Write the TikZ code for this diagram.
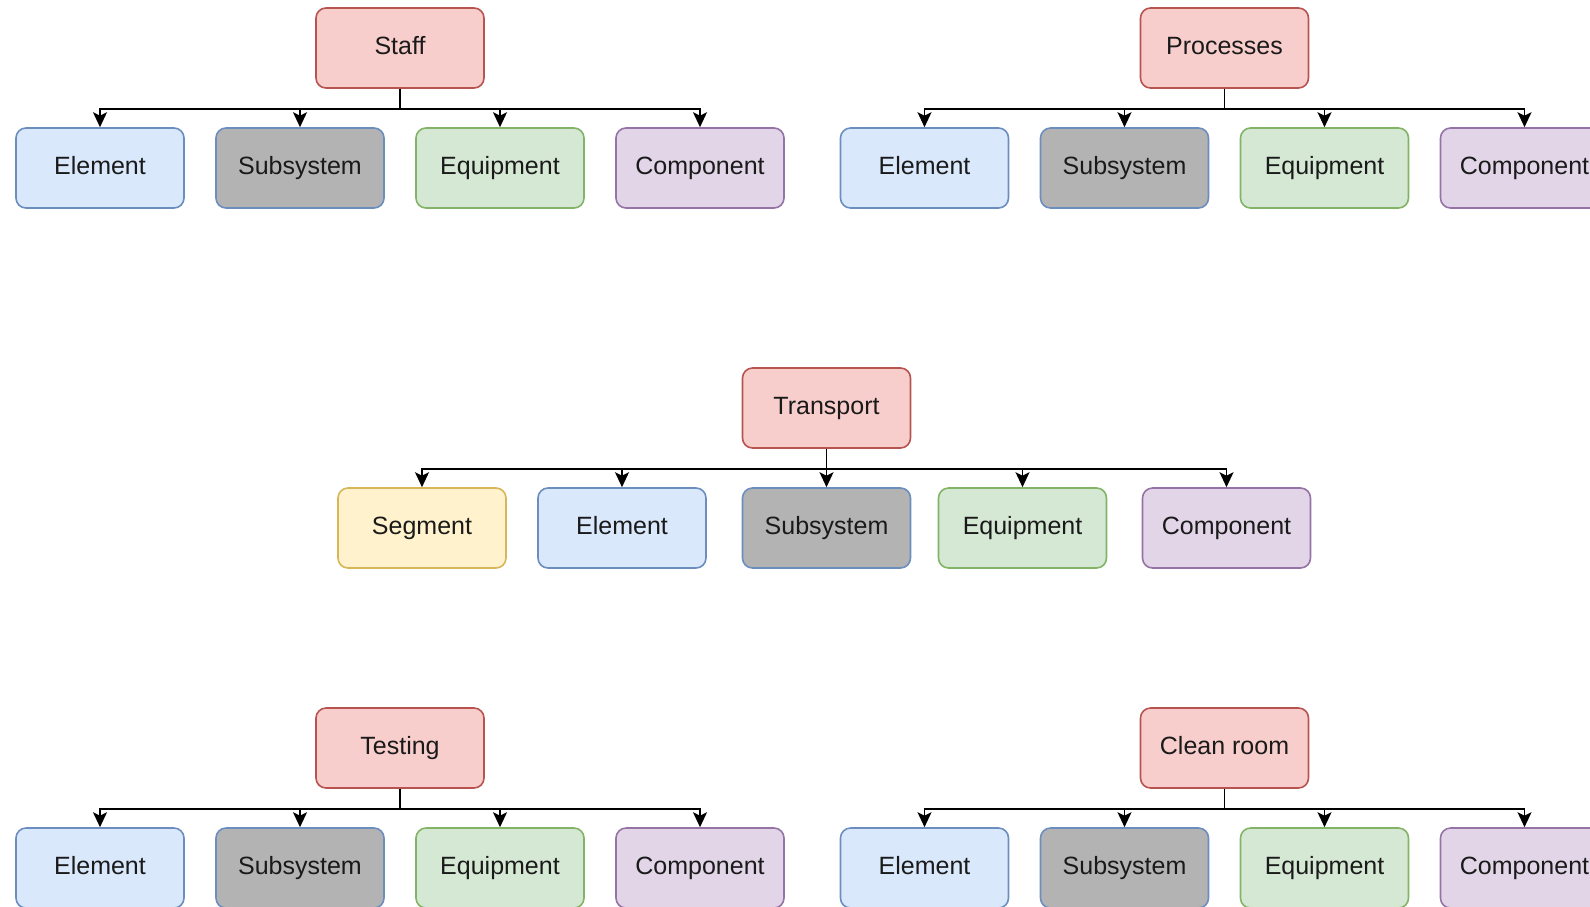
\documentclass[tikz,border=0pt]{standalone}
\usepackage{fontspec}
\setmainfont{Liberation Sans}
\usetikzlibrary{arrows.meta}
\definecolor{redF}{HTML}{F8CECC}
\definecolor{redD}{HTML}{B85450}
\definecolor{bluF}{HTML}{DAE8FC}
\definecolor{bluD}{HTML}{6C8EBF}
\definecolor{gryF}{HTML}{B3B3B3}
\definecolor{grnF}{HTML}{D5E8D4}
\definecolor{grnD}{HTML}{82B366}
\definecolor{purF}{HTML}{E1D5E7}
\definecolor{purD}{HTML}{9673A6}
\definecolor{yelF}{HTML}{FFF2CC}
\definecolor{yelD}{HTML}{D6B656}
\definecolor{txt}{HTML}{1A1A1A}
\tikzset{
  box/.style={draw, rounded corners=10pt, minimum width=168pt, minimum height=80pt,
    line width=1.6pt, inner sep=0pt, text=txt, text height=17pt, text depth=5pt,
    font=\fontsize{25}{29}\selectfont},
  pbox/.style={box, fill=redF, draw=redD},
  elbox/.style={box, fill=bluF, draw=bluD},
  subbox/.style={box, fill=gryF, draw=bluD},
  eqbox/.style={box, fill=grnF, draw=grnD},
  cobox/.style={box, fill=purF, draw=purD},
  segbox/.style={box, fill=yelF, draw=yelD},
  conn/.style={line width=1.8pt, draw=black, -{Stealth[length=15pt,width=14pt,inset=3.5pt]}},
}
\begin{document}
\begin{tikzpicture}[x=1pt,y=-1pt]
\useasboundingbox (0,0) rectangle (1590,906);
\clip (0,0) rectangle (1590,906);
% ---- Staff group
\node[pbox] (staff) at (400,48) {Staff};
\node[elbox] (a1) at (100,168) {Element};
\node[subbox] (a2) at (300,168) {Subsystem};
\node[eqbox] (a3) at (500,168) {Equipment};
\node[cobox] (a4) at (700,168) {Component};
\foreach \c in {a1,a2,a3,a4} \draw[conn] (staff.south) -- ++(0,20) -| (\c.north);
% ---- Processes group
\node[pbox] (proc) at (1224.5,48) {Processes};
\node[elbox] (b1) at (924.5,168) {Element};
\node[subbox] (b2) at (1124.5,168) {Subsystem};
\node[eqbox] (b3) at (1324.5,168) {Equipment};
\node[cobox] (b4) at (1524.5,168) {Component};
\foreach \c in {b1,b2,b3,b4} \draw[conn] (proc.south) -- ++(0,20) -| (\c.north);
% ---- Transport group
\node[pbox] (trans) at (826.5,408) {Transport};
\node[segbox] (c0) at (422,528) {Segment};
\node[elbox] (c1) at (622,528) {Element};
\node[subbox] (c2) at (826.5,528) {Subsystem};
\node[eqbox] (c3) at (1022.5,528) {Equipment};
\node[cobox] (c4) at (1226.5,528) {Component};
\foreach \c in {c0,c1,c2,c3,c4} \draw[conn] (trans.south) -- ++(0,20) -| (\c.north);
% ---- Testing group
\node[pbox] (test) at (400,748) {Testing};
\node[elbox] (d1) at (100,868) {Element};
\node[subbox] (d2) at (300,868) {Subsystem};
\node[eqbox] (d3) at (500,868) {Equipment};
\node[cobox] (d4) at (700,868) {Component};
\foreach \c in {d1,d2,d3,d4} \draw[conn] (test.south) -- ++(0,20) -| (\c.north);
% ---- Clean room group
\node[pbox] (clean) at (1224.5,748) {Clean room};
\node[elbox] (e1) at (924.5,868) {Element};
\node[subbox] (e2) at (1124.5,868) {Subsystem};
\node[eqbox] (e3) at (1324.5,868) {Equipment};
\node[cobox] (e4) at (1524.5,868) {Component};
\foreach \c in {e1,e2,e3,e4} \draw[conn] (clean.south) -- ++(0,20) -| (\c.north);
\end{tikzpicture}
\end{document}
